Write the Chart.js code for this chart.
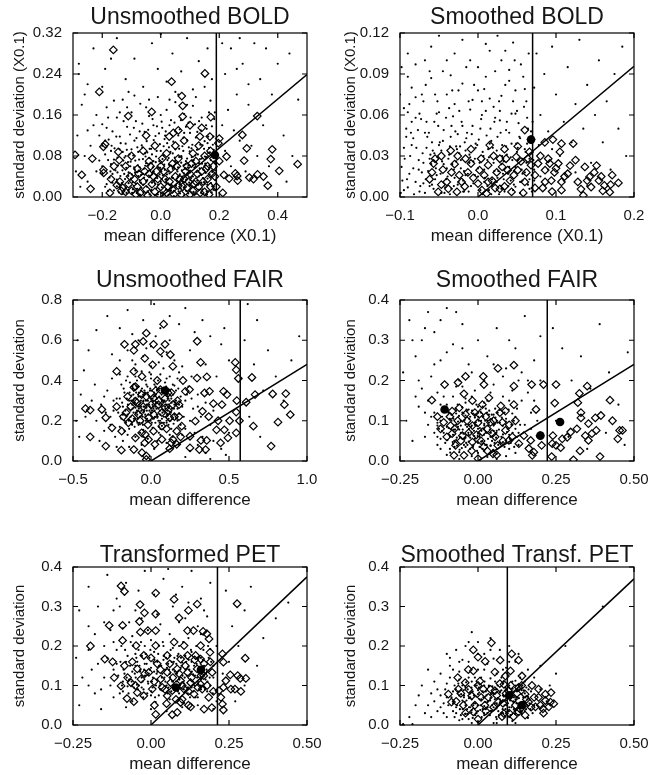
<!DOCTYPE html>
<html>
<head>
<meta charset="utf-8">
<script src="https://cdn.jsdelivr.net/npm/chart.js@4.4.1/dist/chart.umd.min.js"></script>
<style>
html, body { margin: 0; padding: 0; background: #fff; overflow: hidden; }
#wrap { position: relative; width: 665px; height: 775px; background: #fff; }
canvas { position: absolute; }
</style>
</head>
<body>
<div id="wrap">
  <canvas id="c0"></canvas><canvas id="c1"></canvas>
  <canvas id="c2"></canvas><canvas id="c3"></canvas>
  <canvas id="c4"></canvas><canvas id="c5"></canvas>
</div>
<script>
// ---- panel settings ----
const panelTitles = ['Unsmoothed BOLD', 'Smoothed BOLD', 'Unsmoothed FAIR', 'Smoothed FAIR', 'Transformed PET', 'Smoothed Transf. PET'];
const xTitles = ['mean difference (X0.1)', 'mean difference (X0.1)', 'mean difference', 'mean difference', 'mean difference', 'mean difference'];
const yTitles = ['standard deviation (X0.1)', 'standard deviation (X0.1)', 'standard deviation', 'standard deviation', 'standard deviation', 'standard deviation'];
const xMins = [-0.3, -0.1, -0.5, -0.25, -0.25, -0.25];
const xMaxs = [0.5, 0.2, 1.0, 0.5, 0.5, 0.5];
const yMaxs = [0.32, 0.12, 0.8, 0.4, 0.4, 0.4];
const xTicks = [[-0.2, 0, 0.2, 0.4], [-0.1, 0, 0.1, 0.2], [-0.5, 0, 0.5, 1.0], [-0.25, 0, 0.25, 0.5], [-0.25, 0, 0.25, 0.5], [-0.25, 0, 0.25, 0.5]];
const yTicks = [[0, 0.08, 0.16, 0.24, 0.32], [0, 0.03, 0.06, 0.09, 0.12], [0, 0.2, 0.4, 0.6, 0.8], [0, 0.1, 0.2, 0.3, 0.4], [0, 0.1, 0.2, 0.3, 0.4], [0, 0.1, 0.2, 0.3, 0.4]];
const xDecimals = [1, 1, 1, 2, 2, 2];
const yDecimals = [2, 2, 1, 1, 1, 1];
const cutoffs = [0.19, 0.07, 0.572, 0.222, 0.213, 0.094];   // vertical line
const slopes = [0.478, 0.478, 0.48, 0.48, 0.75, 0.74];       // line through origin

// ---- Unsmoothed BOLD ----
const p1Dots = [
[-0.18,0.012],[-0.15,0.021],[-0.13,0.006],[-0.11,0.027],[-0.095,0.015],[-0.07,0.004],[-0.06,0.024],[-0.045,0.011],[-0.03,0.028],[-0.015,0.017],[0.005,0.009],[0.02,0.026],[0.035,0.013],[0.052,0.022],[0.066,0.007],[0.08,0.019],[0.097,0.028],[0.112,0.01],[0.128,0.024],[0.143,0.015],[0.158,0.005],[0.172,0.027],[0.186,0.013],[-0.165,0.028],[-0.12,0.018],[-0.085,0.026],[-0.02,0.004],[0.045,0.002],[0.105,0.02],[0.15,0.025],
[-0.2,0.045],[-0.175,0.038],[-0.155,0.052],[-0.138,0.041],[-0.118,0.057],[-0.102,0.036],[-0.088,0.048],[-0.072,0.033],[-0.058,0.055],[-0.041,0.042],[-0.027,0.058],[-0.012,0.037],[0.002,0.05],[0.016,0.034],[0.03,0.046],[0.044,0.059],[0.058,0.039],[0.072,0.052],[0.087,0.034],[0.1,0.048],[0.115,0.057],[0.13,0.04],[0.146,0.053],[0.16,0.036],[0.176,0.049],[0.19,0.058],[-0.05,0.031],[0.065,0.044],[0.125,0.032],[-0.15,0.034],
[-0.21,0.071],[-0.19,0.083],[-0.17,0.064],[-0.148,0.077],[-0.13,0.088],[-0.112,0.068],[-0.094,0.081],[-0.078,0.062],[-0.061,0.074],[-0.046,0.087],[-0.031,0.066],[-0.016,0.079],[0.0,0.09],[0.012,0.063],[0.027,0.076],[0.041,0.085],[0.056,0.067],[0.07,0.08],[0.085,0.064],[0.099,0.089],[0.113,0.072],[0.127,0.083],[0.141,0.065],[0.155,0.078],[0.168,0.087],[0.182,0.069],[-0.005,0.07],[0.09,0.075],[-0.12,0.08],
[-0.2,0.1],[-0.178,0.112],[-0.158,0.095],[-0.14,0.118],[-0.12,0.104],[-0.1,0.093],[-0.083,0.115],[-0.065,0.101],[-0.048,0.109],[-0.033,0.094],[-0.018,0.119],[-0.003,0.103],[0.013,0.113],[0.028,0.097],[0.043,0.108],[0.06,0.12],[0.074,0.099],[0.09,0.111],[0.105,0.095],[0.12,0.116],[0.135,0.102],[0.15,0.109],[0.165,0.096],[0.18,0.118],
[-0.25,0.13],[-0.22,0.16],[-0.2,0.142],[-0.185,0.175],[-0.165,0.128],[-0.15,0.155],[-0.13,0.19],[-0.115,0.137],[-0.1,0.165],[-0.085,0.148],[-0.07,0.182],[-0.055,0.127],[-0.04,0.158],[-0.025,0.14],[-0.01,0.195],[0.005,0.135],[0.02,0.17],[0.035,0.15],[0.05,0.185],[0.065,0.132],[0.08,0.162],[0.095,0.145],[0.11,0.178],[0.125,0.127],[0.14,0.155],[0.155,0.14],[0.17,0.188],[0.183,0.152],[-0.09,0.198],[0.0,0.16],[0.06,0.2],[-0.16,0.188],[0.12,0.195],[-0.05,0.175],[0.1,0.125],
[-0.28,0.24],[-0.26,0.2],[-0.23,0.29],[-0.19,0.25],[-0.15,0.31],[-0.12,0.23],[-0.09,0.27],[-0.06,0.215],[-0.03,0.3],[-0.01,0.25],[0.02,0.225],[0.04,0.28],[0.07,0.245],[0.09,0.31],[0.11,0.21],[0.13,0.265],[0.16,0.29],[0.175,0.23],[-0.2,0.215],[0.05,0.205],[-0.11,0.205],[0.15,0.215],[0.0,0.318],[-0.17,0.27],
[0.21,0.3],[0.22,0.24],[0.23,0.17],[0.24,0.29],[0.25,0.13],[0.26,0.2],[0.27,0.31],[0.28,0.26],[0.3,0.18],[0.31,0.1],[0.32,0.3],[0.34,0.23],[0.35,0.14],[0.36,0.29],[0.38,0.2],[0.4,0.26],[0.42,0.12],[0.44,0.28],[0.47,0.19],[0.22,0.09],[0.24,0.06],[0.27,0.11],[0.29,0.05],[0.33,0.08],[0.37,0.06],[0.21,0.14],[0.26,0.25],[0.3,0.22],[0.45,0.08],[0.43,0.03],
[-0.29,0.05],[-0.285,0.12],[-0.27,0.18],[-0.26,0.08],[-0.25,0.03],[-0.24,0.1],[-0.23,0.14],[-0.22,0.05],[-0.28,0.26],[-0.25,0.22],[-0.275,0.02]
];
const p1DotsCore = [
[-0.19,0.02],[-0.172,0.05],[-0.16,0.073],[-0.143,0.009],[-0.135,0.062],[-0.125,0.045],[-0.107,0.083],[-0.098,0.008],[-0.091,0.058],[-0.08,0.097],[-0.076,0.041],[-0.066,0.018],[-0.054,0.085],[-0.05,0.066],[-0.038,0.005],[-0.036,0.052],[-0.024,0.111],[-0.022,0.031],[-0.008,0.058],[-0.006,0.124],[0.007,0.042],[0.009,0.082],[0.018,0.014],[0.022,0.105],[0.032,0.062],[0.038,0.038],[0.048,0.077],[0.05,0.128],[0.061,0.011],[0.063,0.094],[0.076,0.03],[0.078,0.116],[0.083,0.055],[0.094,0.007],[0.095,0.062],[0.104,0.037],[0.108,0.102],[0.118,0.081],[0.12,0.006],[0.133,0.056],[0.137,0.13],[0.139,0.028],[0.148,0.094],[0.153,0.047],[0.162,0.118],[0.166,0.057],[0.174,0.009],[0.178,0.102],[0.188,0.033],
[-0.185,0.135],[-0.168,0.1],[-0.152,0.118],[-0.137,0.105],[-0.127,0.148],[-0.105,0.122],[-0.092,0.135],[-0.072,0.128],[-0.063,0.143],[-0.043,0.131],[-0.028,0.152],[-0.013,0.138],[0.003,0.147],[0.017,0.128],[0.03,0.14],[0.047,0.145],[0.069,0.15],[0.086,0.137],[0.102,0.155],[0.117,0.142],[0.131,0.148],[0.157,0.133],[0.175,0.138],
[-0.11,0.048],[-0.06,0.045],[0.0,0.03],[0.025,0.05],[0.07,0.067],[0.11,0.062],[0.14,0.075],[-0.03,0.083],[-0.2,0.06],[-0.21,0.12],[-0.18,0.155],[0.185,0.165],[0.165,0.165],[-0.14,0.165],[-0.115,0.175],[0.09,0.18],[0.03,0.19],[-0.04,0.19]
];
const p1DotsDense = [
[-0.148,0.048],[-0.141,0.093],[-0.133,0.027],[-0.128,0.071],[-0.122,0.035],[-0.116,0.092],[-0.109,0.014],[-0.104,0.06],[-0.099,0.044],[-0.093,0.022],[-0.087,0.071],[-0.082,0.008],[-0.077,0.088],[-0.073,0.051],[-0.068,0.028],[-0.063,0.097],[-0.057,0.038],[-0.052,0.079],[-0.047,0.02],[-0.043,0.061],[-0.038,0.094],[-0.034,0.012],[-0.029,0.047],[-0.025,0.07],[-0.019,0.026],[-0.014,0.09],[-0.01,0.005],[-0.004,0.044],[0.0,0.066],[0.004,0.019],[0.01,0.099],[0.014,0.053],[0.019,0.035],[0.023,0.072],[0.027,0.004],[0.033,0.088],[0.036,0.024],[0.041,0.055],[0.046,0.012],[0.05,0.093],[0.055,0.031],[0.059,0.058],[0.063,0.078],[0.068,0.017],[0.073,0.04],[0.077,0.09],[0.081,0.004],[0.086,0.07],[0.091,0.045],[0.096,0.097],[0.1,0.023],[0.106,0.078],[0.11,0.04],[0.115,0.004],[0.119,0.06],[0.124,0.092],[0.129,0.014],[0.134,0.074],[0.138,0.043],[0.143,0.101],[0.148,0.029],[0.152,0.065],[0.157,0.011],[0.162,0.086],[0.167,0.044],[0.171,0.072],[0.176,0.021],[0.181,0.092],[0.186,0.052],[0.19,0.075],[-0.16,0.013],[-0.165,0.045],[-0.17,0.09],[-0.18,0.072],[-0.185,0.025],[-0.19,0.11],[0.015,0.12],[0.08,0.125],[-0.09,0.11],[0.16,0.105],
[-0.146,0.062],[-0.139,0.018],[-0.131,0.052],[-0.124,0.077],[-0.117,0.008],[-0.111,0.041],[-0.103,0.069],[-0.096,0.029],[-0.089,0.054],[-0.081,0.016],[-0.074,0.073],[-0.067,0.043],[-0.059,0.009],[-0.053,0.061],[-0.046,0.033],[-0.039,0.076],[-0.032,0.014],[-0.024,0.05],[-0.017,0.068],[-0.009,0.024],[-0.002,0.057],[0.006,0.074],[0.013,0.006],[0.021,0.044],[0.028,0.063],[0.034,0.019],[0.042,0.037],[0.049,0.07],[0.057,0.05],[0.064,0.025],[0.071,0.078],[0.079,0.046],[0.087,0.012],[0.093,0.058],[0.101,0.033],[0.108,0.071],[0.116,0.019],[0.123,0.049],[0.131,0.066],[0.138,0.008],[0.144,0.037],[0.151,0.079],[0.159,0.024],[0.166,0.062],[0.173,0.039],[0.18,0.014],[0.187,0.066],[0.004,0.035],[-0.072,0.058],[0.078,0.062]
];
const p1Diamonds = [
[-0.162,0.287],[-0.21,0.205],[0.037,0.225],[0.151,0.241],[0.072,0.197],[0.075,0.178],[-0.111,0.158],[-0.031,0.166],[0.075,0.157],[0.171,0.156],[0.33,0.158],
[-0.196,0.098],[-0.19,0.103],[-0.293,0.082],[-0.234,0.075],[-0.27,0.043],[-0.24,0.016],[-0.174,0.008],[-0.196,0.053],[-0.195,0.047],[-0.145,0.088],[-0.15,0.023],[-0.142,0.072],
[0.043,0.125],[0.029,0.118],[0.134,0.118],[0.168,0.118],[0.2,0.114],[0.197,0.105],[0.279,0.121],[0.294,0.095],[0.381,0.093],[0.376,0.074],[0.225,0.079],[0.285,0.071],[0.468,0.064],[0.2,0.07],[0.405,0.051],[0.216,0.043],[0.234,0.036],[0.255,0.046],[0.261,0.041],[0.263,0.032],[0.303,0.038],[0.317,0.035],[0.331,0.044],[0.351,0.04],[0.366,0.022],[0.212,0.008],
[-0.14,0.03],[-0.13,0.018],[-0.12,0.01],[-0.11,0.025],[-0.1,0.012],[-0.09,0.035],[-0.08,0.02],[-0.07,0.008],[-0.06,0.03],[-0.05,0.015],[-0.04,0.045],[-0.03,0.025],[-0.02,0.01],[-0.01,0.035],[0.0,0.02],[0.01,0.05],[0.02,0.008],[0.03,0.03],[0.04,0.015],[0.05,0.04],[0.06,0.022],[0.07,0.005],[0.08,0.035],[0.09,0.018],[0.1,0.045],[0.11,0.012],[0.12,0.03],[0.13,0.02],[0.14,0.05],[0.15,0.01],[0.16,0.035],[0.17,0.02],[0.18,0.06],[0.185,0.04],
[-0.12,0.06],[-0.1,0.08],[-0.08,0.055],[-0.06,0.09],[-0.04,0.07],[-0.02,0.1],[0.0,0.06],[0.02,0.085],[0.04,0.065],[0.05,0.1],[0.06,0.075],[0.08,0.11],[0.09,0.06],[0.11,0.085],[0.12,0.07],[0.13,0.1],[0.15,0.08],[0.16,0.06],[0.17,0.09],[0.18,0.075],[-0.17,0.035],[-0.16,0.06],[0.1,0.14],[0.06,0.13],[0.14,0.135],[-0.05,0.12]
];
const p1DiamondsCore = [
[-0.135,0.012],[-0.105,0.04],[-0.085,0.005],[-0.075,0.045],[-0.055,0.05],[-0.045,0.003],[-0.035,0.06],[-0.015,0.05],[-0.005,0.004],[0.005,0.075],[0.015,0.035],[0.025,0.02],[0.035,0.055],[0.045,0.005],[0.055,0.06],[0.065,0.035],[0.075,0.02],[0.085,0.05],[0.095,0.03],[0.105,0.065],[0.115,0.025],[0.125,0.045],[0.135,0.008],[0.145,0.03],[0.155,0.055],[0.165,0.005],[0.175,0.045],[0.19,0.02],[-0.025,0.04],[0.1,0.005]
];
const p1Blobs = [[0.185,0.082]];

// ---- Smoothed BOLD ----
const p2Dots = [
[-0.095,0.005],[-0.08,0.011],[-0.068,0.003],[-0.055,0.013],[-0.042,0.007],[-0.03,0.014],[-0.018,0.004],[-0.006,0.01],[0.006,0.002],[0.018,0.013],[0.03,0.006],[0.042,0.012],[0.054,0.003],[0.064,0.009],[-0.074,0.008],[-0.036,0.002],[0.012,0.008],[0.048,0.0075],
[-0.098,0.022],[-0.088,0.017],[-0.076,0.027],[-0.064,0.019],[-0.052,0.029],[-0.04,0.021],[-0.028,0.026],[-0.016,0.016],[-0.004,0.028],[0.008,0.02],[0.02,0.025],[0.032,0.017],[0.044,0.027],[0.056,0.02],[0.066,0.028],[-0.06,0.024],[-0.022,0.021],[0.026,0.019],
[-0.095,0.036],[-0.083,0.043],[-0.071,0.032],[-0.059,0.04],[-0.047,0.034],[-0.035,0.044],[-0.023,0.037],[-0.011,0.031],[0.001,0.042],[0.013,0.035],[0.025,0.044],[0.037,0.031],[0.049,0.039],[0.061,0.033],[-0.065,0.044],[-0.017,0.04],[0.031,0.038],
[-0.092,0.05],[-0.08,0.058],[-0.068,0.047],[-0.056,0.055],[-0.044,0.049],[-0.032,0.059],[-0.02,0.052],[-0.008,0.046],[0.004,0.057],[0.016,0.05],[0.028,0.056],[0.04,0.047],[0.052,0.054],[0.064,0.05],[-0.026,0.046],
[-0.095,0.065],[-0.085,0.08],[-0.07,0.07],[-0.06,0.087],[-0.05,0.062],[-0.04,0.075],[-0.03,0.068],[-0.02,0.083],[-0.01,0.064],[0.0,0.078],[0.01,0.088],[0.02,0.066],[0.03,0.074],[0.04,0.085],[0.05,0.063],[0.06,0.079],[-0.075,0.061],[0.015,0.072],[-0.035,0.089],[0.045,0.07],[-0.09,0.088],
[-0.08,0.097],[-0.06,0.11],[-0.04,0.1],[-0.02,0.115],[0.0,0.095],[0.015,0.107],[0.03,0.1],[0.045,0.113],[0.055,0.097],[-0.05,0.118],[0.065,0.105],[-0.09,0.105],[0.025,0.118],
[0.075,0.105],[0.08,0.06],[0.085,0.09],[0.09,0.048],[0.095,0.11],[0.1,0.075],[0.105,0.03],[0.11,0.055],[0.115,0.095],[0.12,0.04],[0.125,0.068],[0.13,0.115],[0.135,0.05],[0.14,0.082],[0.145,0.025],[0.15,0.06],[0.155,0.1],[0.16,0.04],[0.165,0.07],[0.17,0.02],[0.175,0.09],[0.18,0.05],[0.185,0.11],[0.19,0.03],[0.08,0.015],[0.09,0.02],[0.11,0.012],[0.125,0.018],[0.14,0.008],[0.095,0.035],[0.078,0.038],[0.07,0.055]
];
const p2DotsCore = [
[-0.097,0.012],[-0.087,0.03],[-0.082,0.002],[-0.077,0.049],[-0.072,0.018],[-0.066,0.055],[-0.062,0.008],[-0.058,0.034],[-0.053,0.061],[-0.048,0.017],[-0.045,0.041],[-0.038,0.028],[-0.034,0.052],[-0.031,0.008],[-0.027,0.035],[-0.024,0.063],[-0.019,0.012],[-0.014,0.047],[-0.011,0.025],[-0.007,0.071],[-0.003,0.036],[0.0,0.015],[0.003,0.05],[0.007,0.03],[0.01,0.063],[0.014,0.005],[0.017,0.041],[0.021,0.055],[0.024,0.011],[0.027,0.07],[0.033,0.026],[0.036,0.049],[0.039,0.008],[0.043,0.061],[0.046,0.019],[0.05,0.033],[0.053,0.044],[0.057,0.012],[0.059,0.066],[0.062,0.025],[0.067,0.041],[0.069,0.004],
[-0.092,0.044],[-0.09,0.062],[-0.085,0.055],[-0.08,0.073],[-0.067,0.082],[-0.055,0.075],[-0.045,0.092],[-0.037,0.065],[-0.025,0.078],[-0.015,0.095],[-0.005,0.082],[0.005,0.07],[0.022,0.092],[0.035,0.082],[0.047,0.1],[0.058,0.088],[-0.068,0.1],[-0.03,0.105],[0.01,0.112],[0.04,0.093],[-0.1,0.075],[-0.098,0.095],[0.072,0.08],[0.072,0.02]
];
const p2DotsDense = [
[-0.099,0.003],[-0.094,0.028],[-0.091,0.013],[-0.086,0.047],[-0.083,0.021],[-0.079,0.036],[-0.075,0.004],[-0.073,0.057],[-0.07,0.025],[-0.067,0.013],[-0.063,0.047],[-0.061,0.031],[-0.057,0.006],[-0.054,0.021],[-0.051,0.052],[-0.049,0.04],[-0.046,0.026],[-0.043,0.003],[-0.041,0.058],[-0.039,0.015],[-0.036,0.037],[-0.033,0.024],[-0.029,0.048],[-0.026,0.009],[-0.024,0.032],[-0.021,0.055],[-0.018,0.019],[-0.015,0.043],[-0.012,0.004],[-0.01,0.029],[-0.007,0.052],[-0.004,0.016],[-0.001,0.038],[0.002,0.025],[0.005,0.06],[0.008,0.011],[0.011,0.045],[0.014,0.029],[0.017,0.002],[0.019,0.036],[0.022,0.058],[0.025,0.014],[0.029,0.047],[0.031,0.03],[0.034,0.004],[0.037,0.055],[0.04,0.022],[0.043,0.039],[0.046,0.009],[0.048,0.061],[0.051,0.027],[0.054,0.043],[0.057,0.017],[0.06,0.035],[0.063,0.058],[0.066,0.013],[0.068,0.048],[0.071,0.027],[-0.088,0.068],[-0.072,0.075],[-0.052,0.07],[-0.033,0.078],[-0.012,0.07],[0.008,0.079],[0.028,0.063],[0.048,0.078],[0.062,0.07],[-0.062,0.092],[-0.01,0.1],[0.035,0.107],
[-0.059,0.009],[-0.056,0.032],[-0.053,0.016],[-0.05,0.038],[-0.047,0.003],[-0.044,0.024],[-0.041,0.013],[-0.037,0.031],[-0.034,0.006],[-0.031,0.02],[-0.028,0.037],[-0.025,0.011],[-0.022,0.027],[-0.019,0.004],[-0.016,0.034],[-0.013,0.017],[-0.009,0.008],[-0.006,0.026],[-0.003,0.039],[0.0,0.021],[0.003,0.005],[0.006,0.033],[0.009,0.014],[0.012,0.027],[0.015,0.039],[0.018,0.008],[0.021,0.019],[0.024,0.034],[0.027,0.002],[0.03,0.024],[0.033,0.013],[0.036,0.037],[0.039,0.017],[0.042,0.029],[0.045,0.005],[0.048,0.022],[0.051,0.036],[0.054,0.011],[0.057,0.028],[0.06,0.018],[0.063,0.039],[0.066,0.006],[0.069,0.032],[-0.062,0.028],[-0.066,0.036],[-0.07,0.01],[-0.076,0.02],[-0.085,0.038],[-0.09,0.007],[0.072,0.012]
];
const p2Diamonds = [
[0.06,0.049],[0.068,0.042],[0.0856,0.04],[0.096,0.042],[0.107,0.039],[0.105,0.033],[0.122,0.039],[0.118,0.023],[0.137,0.022],[0.152,0.023],[0.143,0.0147],[0.158,0.015],[0.172,0.016],[0.18,0.0103],[0.169,0.0035],[0.16,0.0045],[0.135,0.0012],[0.132,0.0058],[0.107,0.005],[0.095,0.004],[0.083,0.0066],[0.073,0.0066],[0.06,0.011],[0.043,0.0037],[0.034,0.0077],[0.011,0.0025],[0.005,0.005],
[-0.057,0.0245],[-0.059,0.018],[-0.051,0.0037],[-0.027,0.0037],[-0.04,0.011],[-0.034,0.018],[-0.021,0.011],[-0.013,0.018],[-0.009,0.0245],[0.002,0.0196],[0.013,0.0233],[0.024,0.018],[0.028,0.028],[0.038,0.0196],[0.049,0.0294],[0.051,0.0196],[0.064,0.028],[0.068,0.0233],[0.077,0.0245],[0.086,0.0196],[0.092,0.0245],[0.098,0.018],[0.103,0.0245],[0.107,0.011],[0.111,0.015],[0.086,0.011],[0.094,0.012],[0.073,0.016],[0.128,0.011],[0.149,0.018],[0.162,0.0085],[0.145,0.0073],[0.041,0.012],[0.013,0.011],[0.0,0.0098],[-0.017,0.0077],[-0.047,0.009],[0.022,0.0065],[-0.009,0.035],[-0.026,0.03],[-0.047,0.03],[0.034,0.035],[0.051,0.037]
];
const p2DiamondsCore = [
[-0.062,0.013],[-0.055,0.028],[-0.045,0.02],[-0.038,0.006],[-0.03,0.024],[-0.024,0.016],[-0.016,0.028],[-0.006,0.014],[0.004,0.028],[0.008,0.016],[0.018,0.012],[0.02,0.03],[0.028,0.006],[0.031,0.022],[0.036,0.028],[0.046,0.016],[0.055,0.026],[0.058,0.003],[0.062,0.018],[0.066,0.033],[0.08,0.03],[0.09,0.028],[0.1,0.021],[0.115,0.017],[0.125,0.027],[0.14,0.012],[0.155,0.012],[0.17,0.009],[-0.035,0.034],[0.015,0.038]
];
const p2Blobs = [[0.068,0.042]];

// ---- Unsmoothed FAIR ----
const p3Dots = [
[-0.2,0.17],[-0.17,0.2],[-0.14,0.16],[-0.11,0.21],[-0.08,0.18],[-0.05,0.155],[-0.02,0.195],[0.01,0.165],[0.04,0.215],[0.07,0.175],[0.1,0.2],[0.13,0.16],[0.16,0.21],[0.19,0.18],[-0.125,0.185],[-0.035,0.22],[0.055,0.19],[0.145,0.185],
[-0.21,0.24],[-0.18,0.27],[-0.15,0.23],[-0.12,0.28],[-0.09,0.25],[-0.06,0.225],[-0.03,0.265],[0.0,0.24],[0.03,0.285],[0.06,0.23],[0.09,0.27],[0.12,0.245],[0.15,0.28],[0.18,0.235],[-0.075,0.28],[0.015,0.26],[0.105,0.225],[-0.165,0.25],[-0.045,0.245],[0.075,0.255],
[-0.2,0.31],[-0.17,0.34],[-0.14,0.3],[-0.11,0.35],[-0.08,0.32],[-0.05,0.295],[-0.02,0.34],[0.01,0.31],[0.04,0.355],[0.07,0.3],[0.1,0.33],[0.13,0.31],[0.16,0.35],[0.19,0.32],[-0.065,0.35],[0.025,0.325],[0.115,0.355],[-0.125,0.325],
[-0.19,0.38],[-0.15,0.42],[-0.12,0.37],[-0.09,0.4],[-0.06,0.445],[-0.03,0.38],[0.0,0.41],[0.03,0.37],[0.06,0.43],[0.09,0.39],[0.12,0.42],[0.15,0.375],[0.18,0.44],[-0.01,0.44],[0.045,0.4],
[-0.35,0.2],[-0.32,0.28],[-0.3,0.15],[-0.28,0.35],[-0.26,0.22],[-0.24,0.3],[-0.23,0.12],[-0.25,0.41],[-0.33,0.1],[-0.38,0.3],[-0.42,0.22],[-0.36,0.38],
[0.22,0.3],[0.25,0.2],[0.24,0.37],[0.27,0.26],[0.3,0.33],[0.28,0.14],[0.32,0.22],[0.35,0.29],[0.38,0.18],[0.26,0.42],[0.33,0.12],[0.4,0.25],
[-0.18,0.1],[-0.14,0.07],[-0.1,0.12],[-0.06,0.08],[-0.02,0.11],[0.02,0.06],[0.06,0.13],[0.1,0.09],[0.14,0.12],[0.18,0.08],[0.2,0.13],[-0.22,0.07],[0.04,0.1],
[-0.2,0.5],[-0.15,0.55],[-0.1,0.48],[-0.05,0.52],[0.0,0.57],[0.05,0.49],[0.1,0.54],[0.15,0.5],[0.2,0.47],[-0.25,0.53],[0.25,0.55],[0.12,0.6],[-0.08,0.6],[0.03,0.62],
[-0.35,0.65],[-0.28,0.72],[-0.2,0.66],[-0.15,0.75],[-0.12,0.63],[-0.05,0.7],[0.02,0.78],[0.06,0.66],[0.12,0.72],[0.18,0.68],[0.22,0.76],[0.28,0.64],[0.33,0.7],[0.38,0.62],[-0.4,0.55],[0.45,0.58],[0.5,0.5],[0.35,0.48],[0.42,0.42],[0.47,0.66],
[0.62,0.78],[0.68,0.7],[0.6,0.6],[0.75,0.55],[0.66,0.48],[0.8,0.42],[0.72,0.35],[0.9,0.5],[0.63,0.22],[0.7,0.12],[0.85,0.3],[0.95,0.62],
[0.25,0.05],[0.3,0.08],[0.35,0.04],[0.4,0.1],[0.45,0.06],[0.5,0.14],[0.22,0.02],[0.38,0.01],[0.48,0.03],
[-0.48,0.2],[-0.45,0.33],[-0.46,0.12],[-0.43,0.45],[-0.47,0.6]
];
const p3DotsCore = [
[-0.19,0.21],[-0.185,0.29],[-0.175,0.36],[-0.16,0.19],[-0.155,0.31],[-0.145,0.26],[-0.135,0.39],[-0.13,0.22],[-0.115,0.3],[-0.105,0.17],[-0.1,0.265],[-0.095,0.34],[-0.085,0.21],[-0.08,0.37],[-0.07,0.24],[-0.065,0.3],[-0.055,0.19],[-0.05,0.33],[-0.04,0.27],[-0.035,0.4],[-0.025,0.21],[-0.02,0.3],[-0.01,0.25],[-0.005,0.36],[0.005,0.19],[0.01,0.28],[0.02,0.34],[0.025,0.22],[0.035,0.26],[0.04,0.31],[0.05,0.17],[0.055,0.28],[0.065,0.36],[0.07,0.21],[0.08,0.3],[0.085,0.245],[0.095,0.35],[0.1,0.19],[0.11,0.28],[0.12,0.33],[0.125,0.2],[0.135,0.26],[0.14,0.38],[0.15,0.23],[0.16,0.3],[0.17,0.26],[0.175,0.36],[0.2,0.27],[0.21,0.22],[0.23,0.33],
[-0.22,0.31],[-0.24,0.25],[-0.26,0.18],[-0.29,0.24],[-0.2,0.43],[-0.1,0.45],[0.0,0.47],[0.08,0.46],[0.17,0.41],[-0.15,0.13],[-0.05,0.12],[0.05,0.14],[0.12,0.13],[-0.3,0.32],[0.3,0.27],[0.26,0.31],[0.22,0.16],[-0.12,0.5],[0.07,0.52],[-0.03,0.56]
];
const p3DotsDense = [
[-0.148,0.28],[-0.142,0.2],[-0.137,0.34],[-0.132,0.25],[-0.127,0.3],[-0.121,0.18],[-0.116,0.36],[-0.112,0.24],[-0.107,0.31],[-0.102,0.21],[-0.097,0.28],[-0.092,0.37],[-0.088,0.23],[-0.083,0.33],[-0.078,0.26],[-0.073,0.19],[-0.068,0.32],[-0.063,0.27],[-0.058,0.36],[-0.053,0.22],[-0.048,0.3],[-0.043,0.25],[-0.038,0.34],[-0.033,0.2],[-0.028,0.28],[-0.023,0.37],[-0.018,0.23],[-0.013,0.32],[-0.008,0.27],[-0.003,0.2],[0.002,0.35],[0.007,0.25],[0.012,0.3],[0.017,0.21],[0.022,0.38],[0.027,0.27],[0.032,0.33],[0.037,0.23],[0.042,0.29],[0.047,0.2],[0.052,0.36],[0.057,0.25],[0.062,0.31],[0.067,0.19],[0.072,0.28],[0.077,0.34],[0.082,0.22],[0.087,0.3],[0.092,0.26],[0.097,0.37],[0.102,0.23],[0.107,0.31],[0.112,0.18],[0.117,0.27],[0.122,0.35],[0.127,0.24],[0.132,0.29],[0.137,0.21],[0.142,0.33],[0.147,0.26],[-0.16,0.4],[-0.1,0.42],[0.0,0.43],[0.1,0.41],[-0.18,0.23],[0.18,0.28],[-0.17,0.15],[0.17,0.2],[-0.07,0.14],[0.06,0.16],
[-0.118,0.26],[-0.113,0.33],[-0.108,0.2],[-0.103,0.29],[-0.098,0.24],[-0.093,0.31],[-0.087,0.19],[-0.082,0.27],[-0.077,0.34],[-0.072,0.22],[-0.067,0.29],[-0.062,0.25],[-0.057,0.32],[-0.052,0.18],[-0.047,0.27],[-0.042,0.35],[-0.037,0.23],[-0.032,0.3],[-0.027,0.25],[-0.022,0.33],[-0.017,0.2],[-0.012,0.28],[-0.007,0.35],[-0.002,0.24],[0.003,0.31],[0.008,0.21],[0.013,0.27],[0.018,0.32],[0.023,0.25],[0.028,0.19],[0.033,0.29],[0.038,0.35],[0.043,0.22],[0.048,0.26],[0.053,0.32],[0.058,0.2],[0.063,0.27],[0.068,0.33],[0.073,0.24],[0.078,0.29],[0.083,0.19],[0.088,0.35],[0.093,0.22],[0.098,0.28],[0.103,0.33],[0.108,0.25],[0.113,0.21],[0.118,0.3],[0.0,0.26],[-0.05,0.24]
];
const p3Diamonds = [
[0.081,0.68],[-0.03,0.635],[-0.05,0.594],[0.09,0.58],[0.016,0.58],[-0.17,0.58],[-0.1,0.58],[-0.11,0.55],[0.06,0.545],[0.124,0.528],[0.296,0.595],[0.318,0.49],[-0.04,0.51],[0.01,0.478],[0.14,0.47],
[0.54,0.49],[0.546,0.453],[0.647,0.415],[0.56,0.41],[0.358,0.418],[0.295,0.412],[0.205,0.4],[-0.22,0.445],[-0.11,0.445],[-0.058,0.42],[-0.11,0.366],[0.22,0.346],[0.247,0.355],[0.343,0.338],[0.375,0.346],[0.465,0.346],[0.487,0.33],
[0.4,0.285],[0.455,0.28],[0.55,0.3],[0.61,0.292],[0.667,0.33],[0.78,0.333],[0.864,0.335],[0.855,0.28],[0.893,0.23],[0.814,0.193],[0.656,0.173],[0.77,0.074],[0.567,0.2],[0.546,0.243],[0.504,0.2],[0.43,0.2],[0.47,0.155],[0.42,0.155],[0.546,0.14],[0.493,0.115],[0.446,0.09],[0.357,0.102],[0.32,0.102],[0.31,0.057],[0.35,0.057],[0.25,0.065],[0.25,0.123],
[0.33,0.247],[0.37,0.22],[0.284,0.198],[0.18,0.22],[0.197,0.173],[0.165,0.148],[0.14,0.107],[0.165,0.083],[0.12,0.061],[0.025,0.083],[-0.03,0.025],[-0.03,0.008],[-0.11,0.057],[-0.19,0.054],[-0.29,0.074],[-0.39,0.12],[-0.42,0.26],[-0.39,0.253],[-0.315,0.256],[-0.29,0.215],[-0.25,0.165],[-0.22,0.27],[-0.177,0.221],[-0.188,0.148],[-0.145,0.19],[-0.08,0.231],[-0.016,0.215],
[0.048,0.28],[0.091,0.264],[0.016,0.313],[-0.06,0.33],[-0.1,0.297],[0.11,0.338],[0.06,0.355],[0.14,0.28],[0.18,0.28],[0.12,0.215],[0.07,0.173],[-0.037,0.132],[-0.1,0.115],[0.016,0.148],[0.07,0.107],[-0.016,0.107],[-0.058,0.041],[-0.04,0.09]
];
const p3DiamondsCore = [
[-0.13,0.27],[-0.12,0.21],[-0.09,0.29],[-0.07,0.2],[-0.05,0.27],[-0.03,0.32],[-0.02,0.18],[0.0,0.28],[0.02,0.23],[0.03,0.35],[0.05,0.3],[0.07,0.24],[0.09,0.31],[0.11,0.25],[0.13,0.34],[0.15,0.22],[0.17,0.3],[-0.15,0.32],[-0.1,0.37],[0.04,0.4],[-0.06,0.14],[0.1,0.16],[0.19,0.12],[0.13,0.09],[-0.16,0.24]
];
const p3Blobs = [[0.09,0.35]];

// ---- Smoothed FAIR ----
const p4Dots = [
[-0.12,0.03],[-0.1,0.015],[-0.08,0.042],[-0.06,0.022],[-0.04,0.035],[-0.02,0.012],[0.0,0.045],[0.02,0.025],[0.04,0.038],[0.06,0.018],[0.08,0.047],[0.1,0.03],[0.12,0.02],[-0.09,0.03],[-0.03,0.048],[0.03,0.01],[0.09,0.012],
[-0.14,0.07],[-0.12,0.055],[-0.1,0.085],[-0.08,0.065],[-0.06,0.078],[-0.04,0.058],[-0.02,0.088],[0.0,0.068],[0.02,0.082],[0.04,0.06],[0.06,0.075],[0.08,0.088],[0.1,0.065],[0.12,0.08],[-0.07,0.052],[-0.01,0.055],[0.05,0.09],[0.11,0.052],[-0.13,0.088],
[-0.15,0.11],[-0.13,0.095],[-0.11,0.125],[-0.09,0.105],[-0.07,0.118],[-0.05,0.098],[-0.03,0.128],[-0.01,0.108],[0.01,0.12],[0.03,0.1],[0.05,0.115],[0.07,0.127],[0.09,0.105],[0.11,0.118],[-0.04,0.113],[0.02,0.092],[0.06,0.1],
[-0.16,0.15],[-0.13,0.17],[-0.1,0.14],[-0.07,0.185],[-0.04,0.155],[-0.01,0.175],[0.02,0.145],[0.05,0.19],[0.08,0.16],[0.11,0.175],[0.14,0.15],[-0.19,0.135],[0.16,0.17],[-0.06,0.2],[0.0,0.135],
[-0.2,0.26],[-0.22,0.35],[-0.18,0.3],[-0.16,0.37],[-0.14,0.32],[-0.12,0.25],[-0.1,0.38],[-0.08,0.29],[-0.05,0.34],[-0.03,0.24],[0.0,0.3],[0.03,0.26],[0.06,0.33],[0.09,0.23],[0.12,0.28],[0.15,0.36],[0.18,0.25],[0.2,0.31],[-0.24,0.22],[-0.23,0.1],[-0.21,0.05],[-0.19,0.2],[-0.17,0.06],[0.14,0.22],[0.17,0.12],[0.19,0.06],[0.2,0.2],[0.15,0.09],[0.13,0.04],[-0.15,0.21],[0.08,0.21],[-0.02,0.22],
[0.24,0.33],[0.27,0.28],[0.3,0.2],[0.33,0.26],[0.36,0.18],[0.39,0.34],[0.42,0.22],[0.45,0.14],[0.48,0.27],[0.25,0.1],[0.29,0.06],[0.35,0.03],[0.41,0.07],[0.47,0.04]
];
const p4DotsCore = [
[-0.13,0.04],[-0.115,0.075],[-0.105,0.045],[-0.095,0.12],[-0.09,0.06],[-0.085,0.1],[-0.075,0.035],[-0.07,0.09],[-0.065,0.14],[-0.055,0.07],[-0.05,0.12],[-0.045,0.04],[-0.035,0.085],[-0.03,0.065],[-0.025,0.11],[-0.015,0.04],[-0.01,0.09],[-0.005,0.14],[0.005,0.06],[0.01,0.1],[0.015,0.03],[0.025,0.13],[0.03,0.07],[0.035,0.115],[0.045,0.05],[0.05,0.075],[0.055,0.13],[0.065,0.04],[0.07,0.095],[0.075,0.06],[0.085,0.12],[0.095,0.08],[0.105,0.045],[0.115,0.1],[0.125,0.06],[0.135,0.09],
[-0.12,0.1],[-0.14,0.12],[-0.16,0.09],[-0.17,0.12],[-0.11,0.16],[-0.08,0.16],[-0.02,0.16],[0.04,0.17],[0.1,0.15],[-0.05,0.185],[0.02,0.2],[0.13,0.2],[-0.18,0.18],[-0.2,0.16],[-0.14,0.24],[-0.1,0.27],[-0.05,0.28],[0.05,0.24],[0.16,0.2],[-0.21,0.3],[-0.17,0.33],[-0.12,0.35],[-0.07,0.37],[0.1,0.3],[0.18,0.15],[0.19,0.1],[0.17,0.08],[0.0,0.02],[-0.06,0.005],[0.06,0.005]
];
const p4DotsDense = [
[-0.098,0.052],[-0.094,0.082],[-0.089,0.021],[-0.085,0.115],[-0.081,0.047],[-0.077,0.078],[-0.072,0.13],[-0.068,0.058],[-0.064,0.098],[-0.059,0.028],[-0.055,0.088],[-0.051,0.134],[-0.047,0.068],[-0.043,0.102],[-0.038,0.045],[-0.034,0.125],[-0.029,0.08],[-0.025,0.03],[-0.021,0.07],[-0.016,0.118],[-0.012,0.062],[-0.007,0.096],[-0.003,0.025],[0.001,0.11],[0.006,0.082],[0.01,0.048],[0.015,0.135],[0.019,0.065],[0.023,0.1],[0.028,0.04],[0.032,0.088],[0.036,0.125],[0.041,0.07],[0.045,0.105],[0.049,0.028],[0.054,0.092],[0.058,0.058],[0.063,0.12],[0.067,0.078],[0.071,0.045],[0.076,0.108],[0.08,0.066],[0.085,0.035],[0.089,0.098],[0.093,0.072],[0.098,0.128],[0.102,0.055],[0.107,0.09],[0.111,0.07],[0.116,0.035],[-0.11,0.07],[-0.115,0.11],[-0.12,0.14],[-0.125,0.08],[-0.13,0.06],[0.12,0.11],[0.125,0.13],[0.13,0.07],[-0.04,0.145],[0.03,0.15],
[-0.079,0.105],[-0.076,0.05],[-0.073,0.078],[-0.07,0.125],[-0.067,0.038],[-0.064,0.085],[-0.061,0.112],[-0.058,0.06],[-0.055,0.1],[-0.052,0.032],[-0.049,0.078],[-0.046,0.118],[-0.043,0.055],[-0.04,0.09],[-0.037,0.128],[-0.034,0.04],[-0.031,0.07],[-0.028,0.105],[-0.025,0.058],[-0.022,0.085],[-0.019,0.125],[-0.016,0.035],[-0.013,0.075],[-0.01,0.115],[-0.007,0.048],[-0.004,0.088],[-0.001,0.062],[0.002,0.1],[0.005,0.035],[0.008,0.128],[0.011,0.075],[0.014,0.05],[0.017,0.11],[0.02,0.088],[0.023,0.04],[0.026,0.07],[0.029,0.12],[0.032,0.055],[0.035,0.095],[0.038,0.078],[0.041,0.038],[0.044,0.115],[0.047,0.062],[0.05,0.088],[0.053,0.045],[0.056,0.108],[0.059,0.07],[0.062,0.095],[-0.03,0.09],[0.0,0.08]
];
const p4Diamonds = [
[-0.148,0.151],[-0.107,0.19],[-0.064,0.195],[-0.04,0.21],[0.017,0.21],[0.019,0.19],[0.064,0.23],[0.115,0.238],[0.115,0.186],[0.172,0.19],[0.21,0.19],[0.25,0.19],[0.246,0.144],[0.186,0.128],[0.115,0.14],
[0.32,0.145],[0.325,0.168],[0.35,0.186],[0.33,0.12],[0.33,0.107],[0.394,0.113],[0.423,0.151],[0.431,0.1],[0.454,0.076],[0.463,0.076],[0.448,0.055],[0.376,0.107],[0.379,0.076],[0.354,0.093],[0.317,0.08],[0.344,0.063],[0.354,0.051],[0.365,0.068],[0.327,0.025],[0.391,0.011],[0.306,0.003],
[0.286,0.059],[0.297,0.072],[0.27,0.055],[0.25,0.039],[0.265,0.033],[0.24,0.063],[0.238,0.043],[0.236,0.011],[0.204,0.039],[0.199,0.063],[0.169,0.051],[0.163,0.031],[0.179,0.022],[0.174,0.014],[0.147,0.063],[0.131,0.043],[0.099,0.051],[0.088,0.076],[0.063,0.039],[0.048,0.018],[0.0,0.006],[-0.045,0.014],[-0.077,0.014],[-0.072,0.039],[-0.083,0.068],[-0.11,0.096],[-0.088,0.088],
[-0.045,0.167],[-0.018,0.15],[0.014,0.14],[0.035,0.157],[0.073,0.137],[0.088,0.124],[-0.04,0.116],[-0.018,0.088],[0.014,0.072],[0.04,0.096],[-0.05,0.063],[-0.018,0.047],[0.019,0.035],[0.046,0.068],[0.078,0.096],[-0.06,0.132],[0.004,0.116],[-0.083,0.124]
];
const p4DiamondsCore = [
[-0.1,0.06],[-0.09,0.11],[-0.075,0.08],[-0.065,0.1],[-0.055,0.05],[-0.035,0.1],[-0.03,0.07],[-0.01,0.12],[-0.005,0.065],[0.0,0.095],[0.01,0.05],[0.025,0.11],[0.03,0.08],[0.05,0.1],[0.055,0.06],[0.07,0.12],[0.08,0.05],[0.1,0.09],[0.11,0.06],[0.12,0.1],[-0.12,0.08],[-0.13,0.11],[-0.02,0.025],[0.03,0.025],[0.06,0.015]
];
const p4Blobs = [[-0.107,0.128],[0.263,0.097],[0.2,0.063]];

// ---- Transformed PET ----
const p5Dots = [
[-0.12,0.07],[-0.09,0.085],[-0.06,0.06],[-0.03,0.095],[0.0,0.075],[0.03,0.09],[0.06,0.065],[0.09,0.08],[0.12,0.095],[0.15,0.07],[0.18,0.085],[-0.075,0.098],[0.015,0.058],[0.105,0.055],[0.165,0.1],
[-0.15,0.12],[-0.12,0.14],[-0.09,0.11],[-0.06,0.135],[-0.03,0.12],[0.0,0.145],[0.03,0.105],[0.06,0.13],[0.09,0.118],[0.12,0.148],[0.15,0.11],[0.18,0.135],[0.2,0.12],[-0.105,0.125],[-0.045,0.102],[0.045,0.14],[0.135,0.128],
[-0.14,0.17],[-0.11,0.19],[-0.08,0.16],[-0.05,0.18],[-0.02,0.155],[0.01,0.185],[0.04,0.165],[0.07,0.195],[0.1,0.158],[0.13,0.185],[0.16,0.17],[0.19,0.192],[-0.17,0.155],[0.025,0.2],[0.085,0.175],
[-0.18,0.23],[-0.15,0.26],[-0.12,0.21],[-0.09,0.245],[-0.06,0.225],[-0.03,0.27],[0.0,0.215],[0.03,0.255],[0.06,0.23],[0.09,0.26],[0.12,0.22],[0.15,0.25],[0.18,0.275],[-0.01,0.24],
[-0.2,0.35],[-0.17,0.3],[-0.14,0.38],[-0.11,0.32],[-0.08,0.36],[-0.05,0.29],[-0.02,0.39],[0.01,0.33],[0.04,0.37],[0.07,0.3],[0.1,0.35],[0.13,0.39],[0.16,0.32],[0.19,0.36],[-0.23,0.29],[0.055,0.395],[-0.12,0.29],[0.17,0.29],
[-0.22,0.12],[-0.2,0.19],[-0.23,0.05],[-0.18,0.08],[-0.16,0.04],[-0.2,0.25],[-0.24,0.17],[0.21,0.06],[0.2,0.04],[0.21,0.2],
[0.24,0.34],[0.26,0.25],[0.28,0.2],[0.3,0.29],[0.32,0.35],[0.34,0.15],[0.36,0.22],[0.4,0.27],[0.44,0.31],[0.25,0.16],[0.27,0.06],[0.3,0.1],[0.23,0.13]
];
const p5DotsCore = [
[-0.13,0.1],[-0.11,0.155],[-0.1,0.08],[-0.095,0.2],[-0.085,0.13],[-0.075,0.175],[-0.07,0.115],[-0.065,0.21],[-0.055,0.095],[-0.05,0.15],[-0.04,0.19],[-0.035,0.135],[-0.025,0.07],[-0.02,0.2],[-0.01,0.11],[-0.005,0.17],[0.005,0.095],[0.01,0.135],[0.02,0.16],[0.025,0.075],[0.035,0.12],[0.04,0.2],[0.05,0.1],[0.055,0.155],[0.065,0.085],[0.07,0.14],[0.075,0.17],[0.08,0.11],[0.09,0.2],[0.095,0.145],[0.105,0.09],[0.11,0.175],[0.115,0.125],[0.125,0.07],[0.13,0.16],[0.14,0.1],[0.145,0.2],[0.155,0.13],[0.16,0.09],[0.17,0.15],[0.175,0.115],[0.185,0.17],[0.19,0.1],[0.2,0.15],
[-0.15,0.2],[-0.16,0.09],[-0.19,0.14],[-0.2,0.1],[-0.13,0.24],[-0.07,0.26],[0.02,0.28],[0.11,0.27],[0.16,0.23],[-0.1,0.3],[0.08,0.33],[0.12,0.31],[-0.04,0.34],[0.0,0.04],[0.05,0.035],[0.1,0.045],[0.15,0.05],[-0.08,0.045]
];
const p5DotsDense = [
[-0.098,0.16],[-0.093,0.1],[-0.088,0.14],[-0.083,0.19],[-0.078,0.12],[-0.072,0.08],[-0.067,0.15],[-0.062,0.11],[-0.057,0.2],[-0.052,0.13],[-0.047,0.17],[-0.042,0.09],[-0.037,0.15],[-0.032,0.21],[-0.027,0.11],[-0.022,0.14],[-0.017,0.18],[-0.012,0.08],[-0.007,0.13],[-0.002,0.19],[0.003,0.11],[0.008,0.16],[0.013,0.07],[0.018,0.13],[0.023,0.18],[0.028,0.1],[0.033,0.15],[0.038,0.21],[0.043,0.12],[0.048,0.17],[0.053,0.08],[0.058,0.14],[0.063,0.19],[0.068,0.11],[0.073,0.16],[0.078,0.09],[0.083,0.13],[0.088,0.18],[0.093,0.1],[0.098,0.15],[0.103,0.21],[0.108,0.12],[0.113,0.16],[0.118,0.08],[0.123,0.14],[0.128,0.19],[0.133,0.11],[0.138,0.15],[0.143,0.07],[0.148,0.12],[0.153,0.17],[0.158,0.1],[0.163,0.13],[0.168,0.19],[0.173,0.09],[0.178,0.14],[0.183,0.2],[0.188,0.12],[0.193,0.16],[0.198,0.08],
[-0.049,0.12],[-0.044,0.16],[-0.039,0.1],[-0.034,0.14],[-0.029,0.175],[-0.024,0.09],[-0.019,0.125],[-0.014,0.155],[-0.009,0.105],[-0.004,0.14],[0.001,0.085],[0.006,0.12],[0.011,0.165],[0.016,0.1],[0.021,0.135],[0.026,0.15],[0.031,0.09],[0.036,0.13],[0.041,0.175],[0.046,0.11],[0.051,0.145],[0.056,0.095],[0.061,0.12],[0.066,0.16],[0.071,0.1],[0.076,0.135],[0.081,0.155],[0.086,0.085],[0.091,0.115],[0.096,0.17],[0.101,0.125],[0.106,0.105],[0.111,0.14],[0.116,0.095],[0.121,0.165],[0.126,0.115],[0.131,0.135],[0.136,0.085],[0.141,0.125],[0.146,0.155],[0.151,0.105],[0.156,0.14],[0.161,0.115],[0.166,0.165],[0.171,0.095],[0.176,0.13],[0.181,0.11],[0.06,0.175],[0.02,0.115],[0.13,0.095]
];
const p5Diamonds = [
[-0.096,0.352],[-0.085,0.338],[0.015,0.334],[-0.035,0.305],[-0.021,0.284],[0.015,0.281],[0.074,0.318],[0.148,0.306],[0.12,0.29],[0.09,0.271],[0.276,0.307],
[-0.134,0.252],[-0.091,0.252],[-0.037,0.262],[-0.034,0.235],[-0.01,0.239],[0.015,0.239],[0.117,0.239],[0.136,0.239],[0.167,0.237],[0.179,0.231],[0.186,0.218],
[-0.194,0.2],[-0.091,0.214],[-0.048,0.201],[0.015,0.201],[0.074,0.21],[0.106,0.201],[0.159,0.201],[0.189,0.184],[0.229,0.18],[0.232,0.159],
[-0.148,0.167],[-0.123,0.16],[-0.085,0.15],[-0.044,0.142],[-0.007,0.133],[0.02,0.155],[0.052,0.133],[0.084,0.142],[0.117,0.133],[0.148,0.142],[0.169,0.125],[0.196,0.133],
[0.302,0.169],[0.254,0.127],[0.278,0.125],[0.286,0.118],[0.304,0.118],[0.24,0.112],[0.256,0.091],[0.232,0.095],[0.218,0.087],[0.288,0.085],[0.269,0.091],[0.229,0.053],[0.232,0.038],[0.224,0.07],
[0.195,0.044],[0.17,0.04],[0.127,0.046],[0.095,0.057],[0.084,0.032],[0.068,0.026],[0.05,0.054],[0.015,0.027],[0.011,0.05],[-0.077,0.067],[-0.055,0.059],[-0.023,0.074],[0.004,0.091],[0.036,0.095],[0.068,0.087],[0.106,0.091],[0.138,0.078],[0.164,0.091],[0.185,0.07],
[-0.118,0.12],[-0.096,0.099],[-0.064,0.107],[-0.032,0.116],[0.031,0.116],[0.063,0.107],[0.095,0.112],[0.127,0.107],[0.159,0.103],[-0.044,0.082],[0.052,0.074],[0.117,0.176],[0.143,0.176],[0.159,0.167],[0.095,0.167],[0.052,0.176],[-0.023,0.176]
];
const p5DiamondsCore = [
[-0.075,0.12],[-0.06,0.16],[-0.05,0.1],[-0.02,0.13],[0.0,0.17],[0.01,0.11],[0.03,0.14],[0.045,0.09],[0.06,0.155],[0.07,0.12],[0.08,0.065],[0.09,0.13],[0.1,0.1],[0.11,0.15],[0.12,0.085],[0.13,0.12],[0.14,0.165],[0.15,0.095],[0.16,0.125],[0.17,0.155],[0.18,0.1],[0.19,0.16],[0.2,0.085],[0.1,0.065],[0.12,0.05]
];
const p5Blobs = [[0.08,0.095],[0.16,0.14]];

// ---- Smoothed Transf. PET ----
const p6Dots = [
[-0.1,0.02],[-0.08,0.035],[-0.06,0.012],[-0.04,0.028],[-0.02,0.038],[0.0,0.008],[0.02,0.025],[0.04,0.036],[0.06,0.015],[0.08,0.03],[0.1,0.02],[0.12,0.038],[0.14,0.028],[0.16,0.018],[-0.03,0.015],[0.05,0.005],[0.11,0.01],[-0.07,0.03],
[-0.14,0.06],[-0.12,0.045],[-0.1,0.07],[-0.08,0.055],[-0.06,0.075],[-0.04,0.05],[-0.02,0.065],[0.0,0.078],[0.02,0.048],[0.04,0.068],[0.06,0.055],[0.08,0.075],[0.1,0.045],[0.12,0.065],[0.14,0.058],[0.16,0.072],[0.18,0.05],[-0.05,0.062],[0.03,0.058],[0.09,0.062],[-0.11,0.055],
[-0.13,0.09],[-0.1,0.105],[-0.08,0.085],[-0.06,0.115],[-0.04,0.095],[-0.02,0.11],[0.0,0.088],[0.02,0.1],[0.04,0.118],[0.06,0.09],[0.08,0.105],[0.1,0.095],[0.12,0.112],[0.14,0.088],[-0.01,0.12],[0.07,0.082],
[-0.12,0.13],[-0.09,0.15],[-0.06,0.135],[-0.03,0.16],[0.0,0.14],[0.03,0.155],[0.06,0.13],[0.09,0.145],[0.12,0.16],[-0.05,0.165],[0.05,0.168],
[-0.2,0.05],[-0.18,0.1],[-0.17,0.03],[-0.16,0.14],[-0.19,0.075],[-0.15,0.02],[-0.22,0.02],[-0.07,0.19],[-0.04,0.2],[-0.02,0.235],[0.0,0.21],[0.02,0.18],[0.04,0.22],[0.07,0.19],[0.1,0.2],[0.13,0.18],[0.16,0.14],[0.18,0.12],[0.2,0.09],[0.22,0.06],[-0.1,0.18],[0.15,0.11],[0.25,0.13],[0.28,0.2],[0.4,0.3],[0.2,0.15],[0.23,0.1],[-0.24,0.002],[-0.21,0.002]
];
const p6DotsCore = [
[-0.12,0.075],[-0.11,0.03],[-0.105,0.09],[-0.095,0.05],[-0.09,0.12],[-0.085,0.07],[-0.075,0.1],[-0.07,0.045],[-0.065,0.085],[-0.055,0.025],[-0.05,0.1],[-0.045,0.07],[-0.035,0.04],[-0.03,0.12],[-0.025,0.08],[-0.015,0.05],[-0.01,0.1],[-0.005,0.03],[0.005,0.065],[0.01,0.12],[0.015,0.04],[0.025,0.085],[0.03,0.03],[0.035,0.1],[0.045,0.05],[0.05,0.08],[0.055,0.11],[0.065,0.035],[0.07,0.065],[0.075,0.12],[0.085,0.05],[0.09,0.09],[0.095,0.03],[0.105,0.07],[0.11,0.11],[0.115,0.04],[0.125,0.085],[0.13,0.05],[0.135,0.12],[0.145,0.07],[0.15,0.035],[0.155,0.095],[0.165,0.055],[0.17,0.085],[0.175,0.03],
[-0.15,0.08],[-0.14,0.11],[-0.13,0.035],[-0.16,0.05],[-0.08,0.14],[0.02,0.14],[0.08,0.14],[-0.06,0.16],[0.1,0.16],[0.0,0.18],[-0.09,0.17],[0.04,0.19],[-0.03,0.21],[0.06,0.005],[-0.02,0.005],[0.12,0.005]
];
const p6DotsDense = [
[-0.079,0.06],[-0.075,0.02],[-0.071,0.09],[-0.067,0.05],[-0.063,0.105],[-0.058,0.04],[-0.054,0.078],[-0.05,0.015],[-0.046,0.088],[-0.042,0.058],[-0.038,0.108],[-0.034,0.028],[-0.029,0.068],[-0.025,0.045],[-0.021,0.095],[-0.017,0.018],[-0.013,0.075],[-0.008,0.055],[-0.004,0.1],[0.0,0.035],[0.004,0.082],[0.008,0.05],[0.012,0.02],[0.017,0.07],[0.021,0.11],[0.025,0.04],[0.029,0.09],[0.033,0.06],[0.038,0.025],[0.042,0.078],[0.046,0.098],[0.05,0.045],[0.054,0.065],[0.058,0.02],[0.063,0.1],[0.067,0.05],[0.071,0.085],[0.075,0.03],[0.079,0.06],[0.083,0.11],[0.088,0.04],[0.092,0.075],[0.096,0.055],[0.1,0.1],[0.104,0.025],[0.108,0.085],[0.113,0.06],[0.117,0.035],[0.121,0.1],[0.125,0.07],[0.129,0.025],[0.133,0.09],[0.138,0.045],[0.142,0.1],[0.146,0.06],[0.15,0.08],[0.154,0.04],[0.158,0.065],[0.162,0.09],[0.168,0.04],
[-0.049,0.04],[-0.045,0.075],[-0.041,0.028],[-0.037,0.062],[-0.033,0.09],[-0.029,0.045],[-0.025,0.07],[-0.021,0.032],[-0.017,0.085],[-0.013,0.055],[-0.009,0.025],[-0.005,0.072],[-0.001,0.05],[0.003,0.095],[0.007,0.038],[0.011,0.065],[0.015,0.085],[0.019,0.03],[0.023,0.058],[0.027,0.075],[0.031,0.045],[0.035,0.098],[0.039,0.062],[0.043,0.035],[0.047,0.08],[0.051,0.055],[0.055,0.09],[0.059,0.042],[0.063,0.068],[0.067,0.025],[0.071,0.058],[0.075,0.088],[0.079,0.04],[0.083,0.072],[0.087,0.095],[0.091,0.05],[0.095,0.08],[0.099,0.035],[0.103,0.062],[0.107,0.045],[0.111,0.092],[0.115,0.07],[0.119,0.028],[0.123,0.055],[0.127,0.09],[0.131,0.068],[0.135,0.035],[0.139,0.078],[0.143,0.05],[0.147,0.088]
];
const p6Diamonds = [
[0.043,0.208],[-0.015,0.19],[0.0,0.172],[0.071,0.164],[0.023,0.161],[0.108,0.18],[0.13,0.164],[0.054,0.134],[-0.031,0.14],[-0.015,0.137],[-0.065,0.12],[0.141,0.124],[0.104,0.137],[0.083,0.103],[-0.095,0.078],
[0.173,0.1],[0.194,0.091],[0.216,0.078],[0.234,0.082],[0.194,0.07],[0.216,0.062],[0.232,0.058],[0.243,0.054],[0.227,0.046],[0.208,0.041],[0.184,0.046],[0.162,0.058],[0.146,0.05],[0.13,0.033],[0.114,0.021],[0.077,0.021],[0.151,0.025],[0.083,0.029],
[0.0,0.015],[-0.015,0.033],[-0.047,0.05],[-0.02,0.074],[0.017,0.091],[0.033,0.07],[0.054,0.087],[0.097,0.087],[0.114,0.066],[0.065,0.058],[0.022,0.05],[0.13,0.095],[0.151,0.078],[-0.063,0.091],[-0.085,0.058],[-0.041,0.107],[0.006,0.111],[0.088,0.124]
];
const p6DiamondsCore = [
[-0.07,0.06],[-0.055,0.08],[-0.04,0.03],[-0.03,0.09],[-0.01,0.05],[0.0,0.1],[0.01,0.07],[0.025,0.035],[0.04,0.09],[0.05,0.045],[0.06,0.075],[0.07,0.105],[0.08,0.055],[0.09,0.08],[0.1,0.03],[0.105,0.1],[0.12,0.05],[0.125,0.08],[0.135,0.04],[0.14,0.1],[0.155,0.065],[0.17,0.045],[0.18,0.07],[0.2,0.05],[0.21,0.03]
];
const p6Blobs = [[0.1,0.075],[0.14,0.05]];

const allDots = [
    p1Dots.concat(p1DotsCore, p1DotsDense), p2Dots.concat(p2DotsCore, p2DotsDense), p3Dots.concat(p3DotsCore, p3DotsDense),
    p4Dots.concat(p4DotsCore, p4DotsDense), p5Dots.concat(p5DotsCore, p5DotsDense), p6Dots.concat(p6DotsCore, p6DotsDense)
];
const allDiamonds = [
    p1Diamonds.concat(p1DiamondsCore), p2Diamonds.concat(p2DiamondsCore), p3Diamonds.concat(p3DiamondsCore),
    p4Diamonds.concat(p4DiamondsCore), p5Diamonds.concat(p5DiamondsCore), p6Diamonds.concat(p6DiamondsCore)
];
const allBlobs = [p1Blobs, p2Blobs, p3Blobs, p4Blobs, p5Blobs, p6Blobs];

// ---- canvas placement on the page ----
const place = [
  { left: 0,   top: 6,   w: 332, h: 241, padL: 11, yw: 62, padR: 25, gap: 4 },
  { left: 332, top: 6,   w: 333, h: 241, padL: 10, yw: 58, padR: 31, gap: 4 },
  { left: 0,   top: 269, w: 332, h: 242, padL: 11, yw: 62, padR: 25, gap: 8 },
  { left: 332, top: 269, w: 333, h: 242, padL: 10, yw: 58, padR: 31, gap: 8 },
  { left: 0,   top: 544, w: 332, h: 231, padL: 11, yw: 62, padR: 25, gap: 0 },
  { left: 332, top: 544, w: 333, h: 231, padL: 10, yw: 58, padR: 31, gap: 0 }
];

const FONT = '"Liberation Sans", Arial, sans-serif';
const INK = '#161616';

function fmt(v, d) {
    const s = Math.abs(v).toFixed(d);
    return v < 0 ? '\u2212' + s : s;
}
function toPts(arr) {
    return arr.map(p => ({ x: p[0], y: p[1] }));
}

// box with inward tick marks, IDL style
const framePlugin = {
    id: 'frame',
    afterDatasetsDraw(chart) {
        const { ctx, chartArea: a, scales } = chart;
        const tl = 5;
        ctx.save();
        ctx.strokeStyle = '#000';
        ctx.lineWidth = 1.2;
        ctx.strokeRect(a.left, a.top, a.right - a.left, a.bottom - a.top);
        ctx.beginPath();
        scales.x.ticks.forEach(t => {
            const px = scales.x.getPixelForValue(t.value);
            ctx.moveTo(px, a.bottom); ctx.lineTo(px, a.bottom - tl);
            ctx.moveTo(px, a.top); ctx.lineTo(px, a.top + tl);
        });
        scales.y.ticks.forEach(t => {
            const py = scales.y.getPixelForValue(t.value);
            ctx.moveTo(a.left, py); ctx.lineTo(a.left + tl, py);
            ctx.moveTo(a.right, py); ctx.lineTo(a.right - tl, py);
        });
        ctx.stroke();
        ctx.restore();
    }
};

for (let i = 0; i < 6; i++) {
    const pl = place[i];
    const cv = document.getElementById('c' + i);
    cv.width = pl.w;
    cv.height = pl.h;
    cv.style.left = pl.left + 'px';
    cv.style.top = pl.top + 'px';

    const yTop = slopes[i] * xMaxs[i];

    new Chart(cv.getContext('2d'), {
        type: 'scatter',
        data: {
            datasets: [
                {
                    data: [{ x: cutoffs[i], y: 0 }, { x: cutoffs[i], y: yMaxs[i] }],
                    showLine: true, borderColor: '#000', borderWidth: 1.5, pointRadius: 0
                },
                {
                    data: [{ x: 0, y: 0 }, { x: xMaxs[i], y: yTop }],
                    showLine: true, borderColor: '#000', borderWidth: 1.5, pointRadius: 0
                },
                {
                    data: toPts(allBlobs[i]),
                    pointStyle: 'circle', pointRadius: 4.3, backgroundColor: '#000', borderWidth: 0
                },
                {
                    data: toPts(allDiamonds[i]),
                    pointStyle: 'rectRot', pointRadius: 3.8, borderColor: '#000', borderWidth: 1.2,
                    backgroundColor: 'rgba(0,0,0,0)'
                },
                {
                    data: toPts(allDots[i]),
                    pointStyle: 'circle', pointRadius: 1.1, backgroundColor: '#000', borderWidth: 0
                }
            ]
        },
        options: {
            responsive: false,
            animation: false,
            devicePixelRatio: 1,
            events: [],
            layout: { padding: { left: pl.padL, right: pl.padR, top: 0, bottom: 0 } },
            plugins: {
                legend: { display: false },
                tooltip: { enabled: false },
                title: {
                    display: true,
                    fullSize: false,
                    text: panelTitles[i],
                    color: INK,
                    font: { family: FONT, size: 23, weight: 'normal', lineHeight: 1 },
                    padding: { top: 0, bottom: pl.gap }
                }
            },
            scales: {
                x: {
                    type: 'linear',
                    min: xMins[i], max: xMaxs[i],
                    grid: { display: false },
                    border: { display: false },
                    afterBuildTicks: s => { s.ticks = xTicks[i].map(v => ({ value: v })); },
                    afterFit: s => { s.height = 50; },
                    ticks: {
                        autoSkip: false, maxRotation: 0, padding: 2, color: INK,
                        font: { family: FONT, size: 15 },
                        callback: v => fmt(v, xDecimals[i])
                    },
                    title: {
                        display: true, text: xTitles[i], color: INK,
                        font: { family: FONT, size: 17, lineHeight: 1.2 },
                        padding: { top: 0, bottom: 0 }
                    }
                },
                y: {
                    type: 'linear',
                    min: 0, max: yMaxs[i],
                    grid: { display: false },
                    border: { display: false },
                    afterBuildTicks: s => { s.ticks = yTicks[i].map(v => ({ value: v })); },
                    afterFit: s => { s.width = pl.yw; },
                    ticks: {
                        autoSkip: false, padding: 3, color: INK,
                        font: { family: FONT, size: 15 },
                        callback: v => fmt(v, yDecimals[i])
                    },
                    title: {
                        display: true, text: yTitles[i], color: INK,
                        font: { family: FONT, size: 15, lineHeight: 1.2 },
                        padding: { top: 0, bottom: 0 }
                    }
                }
            }
        },
        plugins: [framePlugin]
    });
}
</script>
</body>
</html>
